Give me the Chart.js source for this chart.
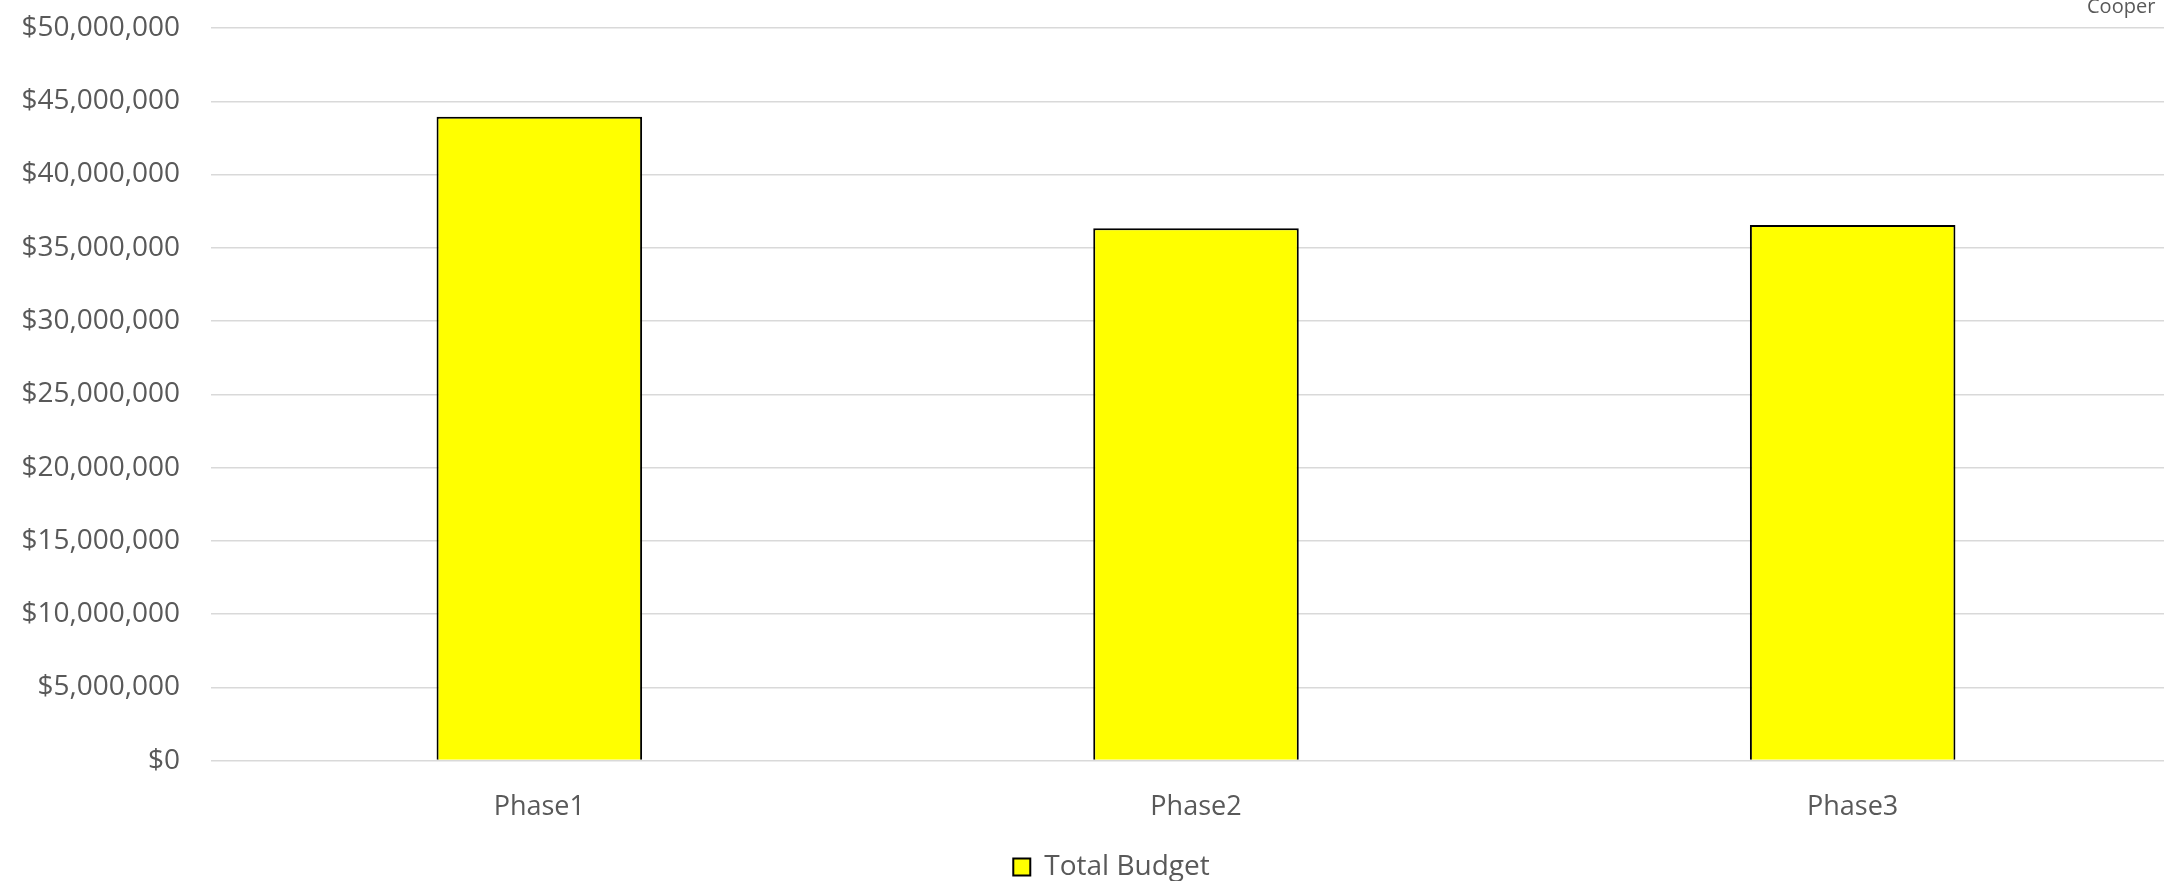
<!DOCTYPE html>
<html>
<head>
<meta charset="utf-8">
<script src="https://cdn.jsdelivr.net/npm/chart.js@4"></script>
<style>
  html, body { margin: 0; padding: 0; background: #ffffff; overflow: hidden; }
  /* the plot in the original runs a little past the right edge */
  #wrap { width: 2181px; height: 881px; position: relative; }
</style>
</head>
<body>
<div id="wrap"><canvas id="chart"></canvas></div>
<script>
const categories = ["Phase1", "Phase2", "Phase3"]
const totalBudget = [43950000, 36330000, 36550000]
const seriesLabel = "Total Budget"
const cornerNote = "Cooper"

const textColor = "#595959"
const fontFamily = "'Open Sans', 'Noto Sans', sans-serif"

// small note clipped at the top right corner
const cornerText = {
  id: "cornerText",
  afterDraw(chart) {
    const ctx = chart.ctx
    ctx.save()
    ctx.font = "20px " + fontFamily
    ctx.fillStyle = textColor
    ctx.textAlign = "left"
    ctx.textBaseline = "alphabetic"
    ctx.fillText(cornerNote, 2087, 13)
    ctx.restore()
  }
}

// legend in the original sits a little right of the centre
const legendShift = {
  id: "legendShift",
  afterLayout(chart) {
    if (chart.legend) {
      chart.legend.left += 21
      chart.legend.right += 21
    }
  }
}

const ctx = document.getElementById("chart").getContext("2d")

new Chart(ctx, {
  type: "bar",
  data: {
    labels: categories,
    datasets: [{
      label: seriesLabel,
      data: totalBudget,
      backgroundColor: "#ffff00",
      borderColor: "#000000",
      borderWidth: 2,
      categoryPercentage: 1,
      barPercentage: 0.313
    }]
  },
  options: {
    responsive: true,
    maintainAspectRatio: false,
    animation: false,
    layout: {
      padding: { top: 28, right: 0, bottom: -10, left: 0 }
    },
    plugins: {
      legend: {
        position: "bottom",
        labels: {
          color: textColor,
          font: { size: 28, family: fontFamily },
          boxWidth: 17,
          boxHeight: 17,
          padding: 0
        }
      },
      tooltip: { enabled: false }
    },
    scales: {
      x: {
        afterFit(scale) { scale.height += 6 },
        grid: { display: false },
        border: { display: false },
        ticks: {
          color: textColor,
          font: { size: 27, family: fontFamily },
          padding: 23
        }
      },
      y: {
        min: 0,
        max: 50000000,
        afterFit(scale) { scale.width = 211 },
        grid: {
          color: "#d9d9d9",
          lineWidth: 1.5,
          tickLength: 31,
          tickColor: "rgba(0,0,0,0)"
        },
        border: { display: false },
        ticks: {
          stepSize: 5000000,
          color: textColor,
          font: { size: 28, family: fontFamily },
          padding: 0,
          callback: function(value) {
            return "$" + value.toLocaleString("en-US")
          }
        }
      }
    }
  },
  plugins: [cornerText, legendShift]
})
</script>
</body>
</html>
